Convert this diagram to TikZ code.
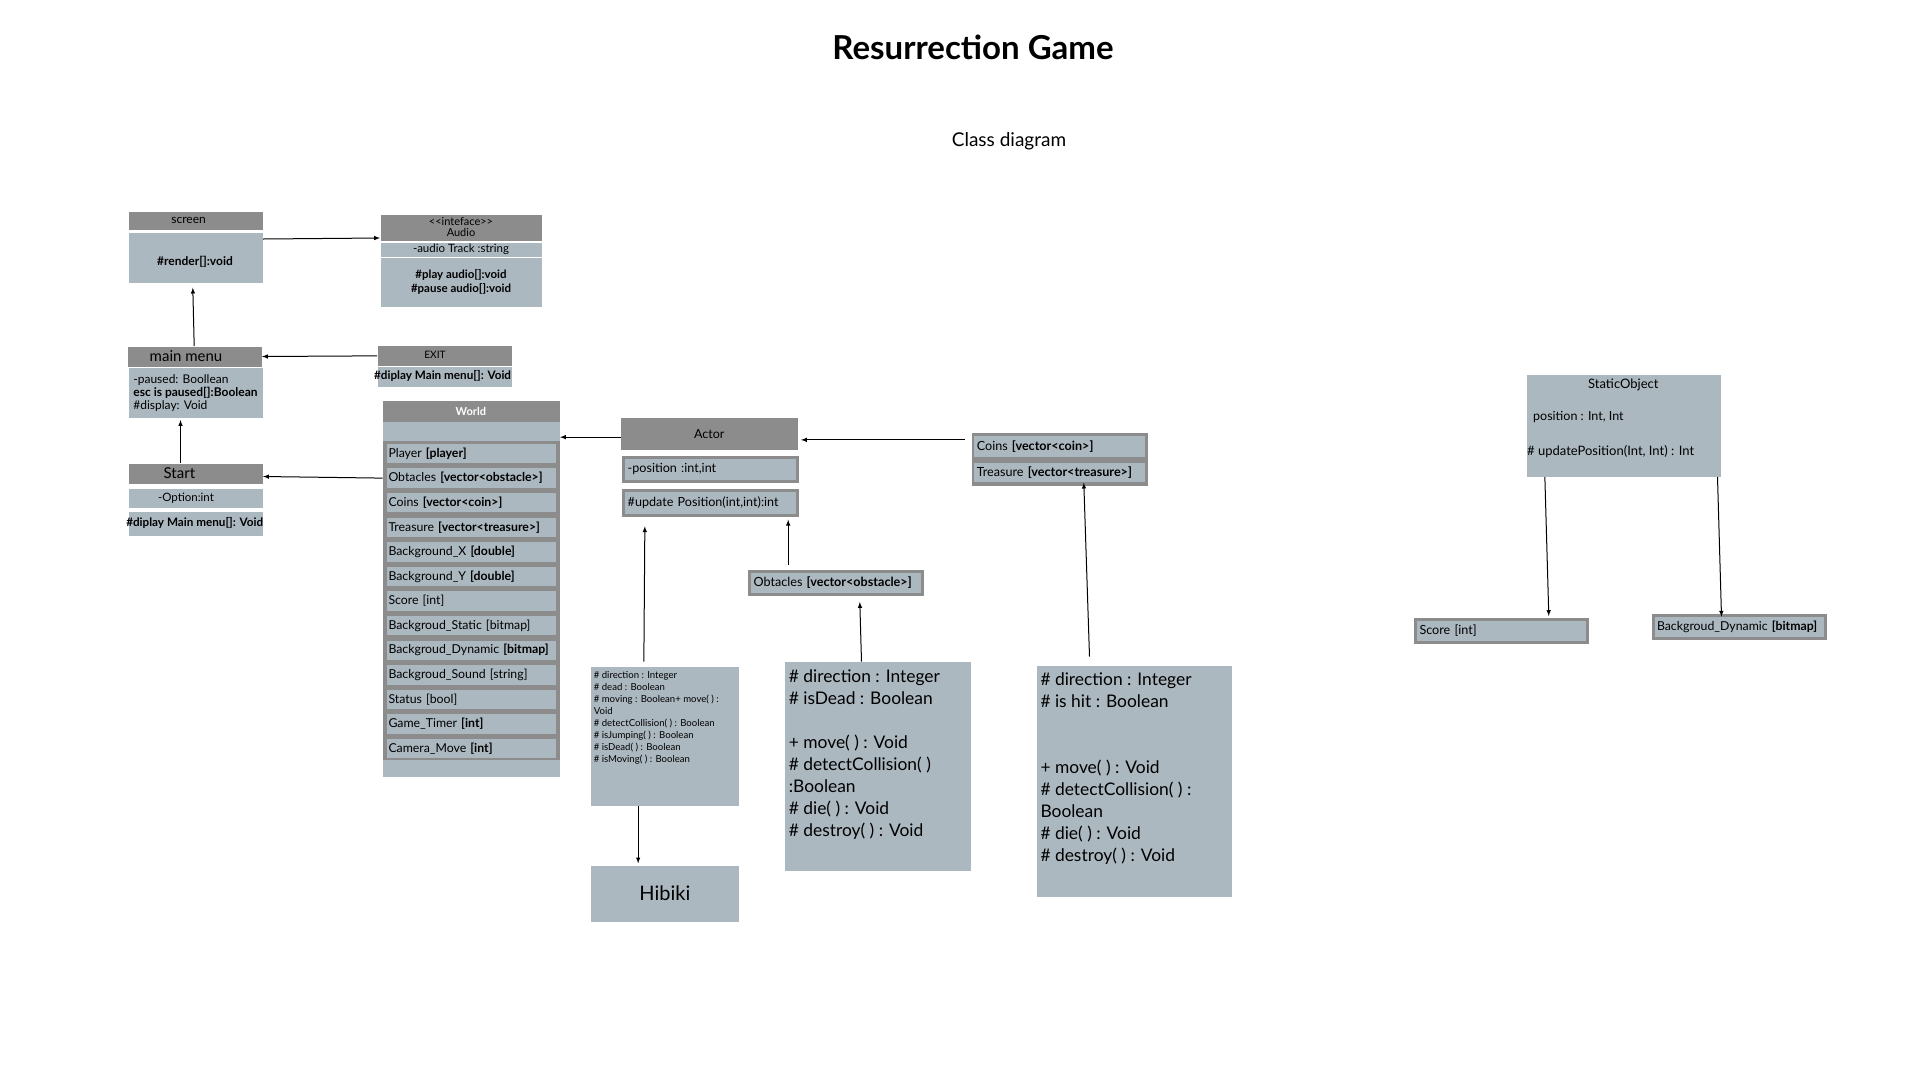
\documentclass[tikz,border=0pt]{standalone}
\usepackage{fontspec}
\setmainfont{Lato}
\definecolor{gris}{RGB}{140,140,140}
\definecolor{bleu}{RGB}{172,184,192}

\begin{document}
\begin{tikzpicture}[x=1pt, y=-1pt, line width=1pt]
  \tikzstyle{entete}=[fill=gris, inner sep=0, anchor=north west, font=\fontsize{11}{11}\selectfont];
  \tikzstyle{corps}=[fill=bleu, inner sep=0, anchor=north west, align=center];
  \tikzstyle{case}=[fill=bleu, draw=gris, line width=3pt, inner xsep=4pt, inner ysep=0, anchor=north west, align=left];
  \tikzstyle{champ}=[fill=bleu, inner xsep=2pt, inner ysep=0, anchor=north west, align=left, text width=165pt, minimum height=19.4pt, font=\fontsize{12.3}{12.3}\selectfont];
  \tikzstyle{texte}=[inner sep=0, align=left];
  \tikzstyle{fleche}=[-latex, line width=1pt];

  \fill[white] (0,0) rectangle (1920,1080);
  \useasboundingbox (0,0) rectangle (1920,1080);

  \node[texte, anchor=base, font=\fontsize{33}{33}\selectfont\bfseries] (titre) at (973,59.3) {Resurrection Game};
  \node[texte, anchor=base, font=\fontsize{19}{19}\selectfont] (sousTitre) at (1009,146.7) {Class diagram};

  % screen et Audio
  \node[entete, minimum width=134pt, minimum height=18pt] (screenH) at (128,211) {};
  \node[texte, font=\fontsize{12}{12}\selectfont] (screenN) at (188.6,220) {screen};
  \node[corps, minimum width=134pt, minimum height=50pt] (screenB) at (128,232) {};
  \node[texte, font=\bfseries\fontsize{12}{12}\selectfont] (screenT) at (195,262) {\#render[]:void};
  \node[entete, minimum width=161pt, minimum height=26pt, align=center] (audioH) at (380,214) {<\kern0pt<inteface>\kern0pt>\\Audio};
  \node[corps, minimum width=161pt, minimum height=13.7pt, font=\fontsize{11.5}{11.5}\selectfont] (audioA) at (380,242.3) {-audio Track :string};
  \node[corps, minimum width=161pt, minimum height=49.4pt, font=\bfseries\fontsize{11.5}{14}\selectfont] (audioM) at (380,257.3) {\#play audio[]:void\\\#pause audio[]:void};

  % main menu, EXIT, Start
  \node[entete, minimum width=134pt, minimum height=20pt] (menuH) at (127,346) {};
  \node[texte, font=\fontsize{15}{15}\selectfont] (menuN) at (186,356) {main menu};
  \node[corps, minimum width=134pt, minimum height=50pt, align=left, font=\fontsize{12}{13}\selectfont] (menuB) at (128,367.7) {-paused: Boollean\\\textbf{esc is paused[]:Boolean}\\\#display: Void};
  \node[entete, minimum width=134pt, minimum height=20.7pt] (exitH) at (377,345) {};
  \node[texte, font=\fontsize{10.2}{10.2}\selectfont] (exitN) at (435,355.3) {EXIT};
  \node[corps, minimum width=134pt, minimum height=20pt] (exitB) at (377,366.7) {};
  \node[texte, font=\bfseries\fontsize{11.7}{11.7}\selectfont] (exitT) at (442.6,376) {\#diplay Main menu[]: Void};
  \node[entete, minimum width=134pt, minimum height=20pt] (startH) at (128,463.3) {};
  \node[texte, font=\fontsize{15}{15}\selectfont] (startN) at (179.4,473.3) {Start};
  \node[corps, minimum width=134pt, minimum height=19.4pt] (startA) at (128,488.3) {};
  \node[texte, font=\fontsize{11.5}{11.5}\selectfont] (startAT) at (186,498) {-Option:int};
  \node[corps, minimum width=134pt, minimum height=24pt] (startM) at (128,511) {};
  \node[texte, font=\bfseries\fontsize{11.7}{11.7}\selectfont] (startMT) at (194.7,523) {\#diplay Main menu[]: Void};

  % World
  \node[fill=gris, inner sep=0, anchor=north west, minimum width=176.3pt, minimum height=376pt] (world) at (382.7,400.7) {};
  \node[texte, text=white, font=\bfseries\fontsize{11}{11}\selectfont] (worldT) at (470.85,411.2) {World};
  \node[corps, minimum width=176.3pt, minimum height=18.3pt] (worldHaut) at (382.7,421.7) {};
  \node[corps, minimum width=176.3pt, minimum height=17.7pt] (worldBas) at (382.7,759) {};
  \node[champ] (w1) at (386,443.3) {Player \textbf{[player]}};
  \node[champ] (w2) at (386,467.9) {Obtacles \textbf{[vector<obstacle>]}};
  \node[champ] (w3) at (386,492.5) {Coins \textbf{[vector<coin>]}};
  \node[champ] (w4) at (386,517.1) {Treasure \textbf{[vector<treasure>]}};
  \node[champ] (w5) at (386,541.7) {Background\_X \textbf{[double]}};
  \node[champ] (w6) at (386,566.3) {Background\_Y \textbf{[double]}};
  \node[champ] (w7) at (386,590.9) {Score [int]};
  \node[champ] (w8) at (386,615.5) {Backgroud\_Static [bitmap]};
  \node[champ] (w9) at (386,640.1) {Backgroud\_Dynamic \textbf{[bitmap]}};
  \node[champ] (w10) at (386,664.7) {Backgroud\_Sound [string]};
  \node[champ] (w11) at (386,689.3) {Status [bool]};
  \node[champ] (w12) at (386,713.9) {Game\_Timer \textbf{[int]}};
  \node[champ] (w13) at (386,738.5) {Camera\_Move \textbf{[int]}};

  % Actor
  \node[entete, minimum width=176.3pt, minimum height=31.3pt, font=\fontsize{12.5}{12.5}\selectfont] (actorH) at (620.7,417.7) {Actor};
  \node[case, text width=165.3pt, minimum height=24.7pt, font=\fontsize{12.6}{12.6}\selectfont] (actorA) at (622.2,455.5) {-position :int,int};
  \node[case, text width=165.3pt, minimum height=24.7pt, font=\fontsize{12.6}{12.6}\selectfont] (actorM) at (622.2,488.8) {\#update Position(int,int):int};
  \node[case, text width=165pt, minimum height=23pt, font=\fontsize{12.6}{12.6}\selectfont] (obstacle) at (748.2,569.8) {Obtacles \textbf{[vector<obstacle>]}};

  \node[corps, minimum width=148.7pt, minimum height=138.3pt] (joueur) at (590,666.7) {};
  \node[texte, anchor=north west, font=\fontsize{9.6}{12}\selectfont] (joueurT) at (593.3,671.2) {\# direction : Integer\\\# dead : Boolean\\\# moving : Boolean+ move( ) :\\Void\\\# detectCollision( ) : Boolean\\\# isJumping( ) : Boolean\\\# isDead( ) : Boolean\\\# isMoving( ) : Boolean};
  \node[corps, minimum width=148.7pt, minimum height=56pt, font=\fontsize{20}{20}\selectfont] (hibiki) at (590,865) {Hibiki};

  \node[corps, minimum width=186.4pt, minimum height=209pt] (obstacleCl) at (784.3,661.7) {};
  \node[texte, anchor=north west, font=\fontsize{17.4}{22}\selectfont] (obstacleT) at (788.3,669) {\# direction : Integer\\\# isDead : Boolean\\[22pt]+ move( ) : Void\\\# detectCollision( )\\:Boolean\\\# die( ) : Void\\\# destroy( ) : Void};

  % Coins et Treasure
  \node[fill=gris, inner sep=0, anchor=north west, minimum width=176.7pt, minimum height=53.4pt] (coffre) at (971,432.3) {};
  \node[corps, align=left, text width=165pt, inner xsep=3pt, minimum height=21.7pt, font=\fontsize{12.6}{12.6}\selectfont] (coins) at (973.3,435) {Coins \textbf{[vector<coin>]}};
  \node[corps, align=left, text width=165pt, inner xsep=3pt, minimum height=19pt, font=\fontsize{12.6}{12.6}\selectfont] (tresor) at (973.3,462.7) {Treasure \textbf{[vector<treasure>]}};

  \node[corps, minimum width=194.3pt, minimum height=231pt] (tresorCl) at (1036.7,665) {};
  \node[texte, anchor=north west, font=\fontsize{17.4}{22}\selectfont] (tresorT) at (1040,672.5) {\# direction : Integer\\\# is hit : Boolean\\[44pt]+ move( ) : Void\\\# detectCollision( ) :\\Boolean\\\# die( ) : Void\\\# destroy( ) : Void};

  % StaticObject
  \node[corps, minimum width=194.7pt, minimum height=102pt] (static) at (1526,374) {};
  \node[texte, font=\fontsize{13}{13}\selectfont] (staticT) at (1623.3,385) {StaticObject};
  \node[texte, anchor=west, font=\fontsize{12.5}{12.5}\selectfont] (staticA) at (1532.7,416.7) {position : Int, Int};
  \node[texte, anchor=west, font=\fontsize{13}{13}\selectfont] (staticM) at (1526.7,451.7) {\# updatePosition(Int, Int) : Int};
  \node[case, text width=163.7pt, minimum height=22.7pt, font=\fontsize{12.6}{12.6}\selectfont] (score) at (1414,618) {Score [int]};
  \node[case, text width=164.3pt, minimum height=23pt, font=\fontsize{12.3}{12.3}\selectfont] (bgdyn) at (1651.5,613.8) {Backgroud\_Dynamic \textbf{[bitmap]}};

  % fleches
  \draw[fleche] ([yshift=-7pt]screenB.north east) -- ([yshift=3pt]audioH.south west);
  \draw[fleche] ([xshift=-0.3pt]menuH.north) -- ([xshift=-2.7pt, yshift=-4.7pt]screenB.south);
  \draw[fleche] (exitH.west) -- (menuH.east);
  \draw[fleche] ([xshift=-15pt]startH.north) -- ([xshift=-15pt, yshift=-1.3pt]menuB.south);
  \draw[fleche] (world.west |- w2) -- ([yshift=-2.7pt]startH.east);
  \draw[fleche] ([yshift=-3.3pt]actorH.west) -- ([yshift=-3.3pt]world.east |- actorH.west);
  \draw[fleche] ([xshift=-8.3pt, yshift=6.5pt]coins.west) -- ([xshift=3pt, yshift=-6pt]actorH.east);
  \draw[fleche] ([xshift=-21pt, yshift=5pt]joueur.north) -- ([xshift=-65.5pt, yshift=-9.8pt]actorM.south);
  \draw[fleche] ([xshift=-26.7pt]joueur.south) -- ([xshift=-26.7pt, yshift=1.7pt]hibiki.north);
  \draw[fleche] ([xshift=-48pt, yshift=4.8pt]obstacle.north) -- ([xshift=77.85pt, yshift=-3.2pt]actorM.south);
  \draw[fleche] ([xshift=-16.5pt]obstacleCl.north) -- ([xshift=23.6pt, yshift=-6.2pt]obstacle.south);
  \draw[fleche] ([xshift=-44.85pt, yshift=8.3pt]tresorCl.north) -- ([xshift=24.5pt]tresor.south);
  \draw[fleche] ([xshift=-79pt]static.south) -- ([xshift=47.45pt, yshift=2pt]score.north);
  \draw[fleche] ([xshift=93.65pt]static.south) -- ([xshift=-17.65pt, yshift=-2.9pt]bgdyn.north);
\end{tikzpicture}
\end{document}
